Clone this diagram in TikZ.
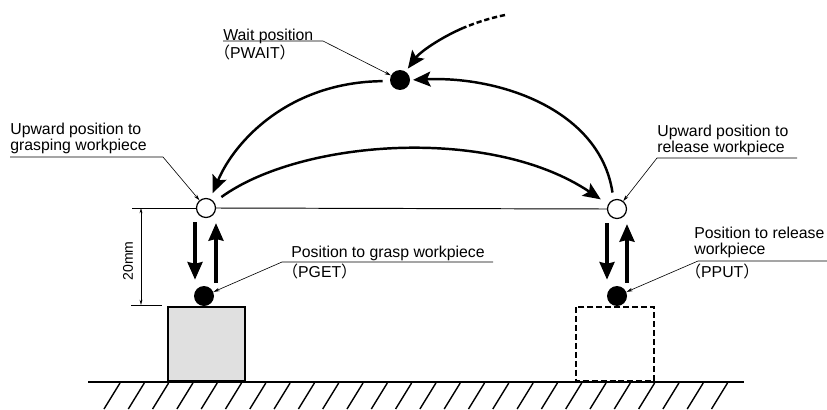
\documentclass[tikz,border=0pt]{standalone}
\usepackage{fontspec}
\setmainfont{Liberation Sans}
\newfontfamily\jpfont{Noto Sans CJK JP}
\usetikzlibrary{arrows.meta,calc}
\newcommand{\lp}{{\jpfont （}}
\newcommand{\rp}{{\jpfont ）}}
\tikzset{
  bdot/.style={circle,fill=black,inner sep=0pt,minimum size=0.4cm},
  wdot/.style={circle,draw=black,fill=white,line width=0.7pt,inner sep=0pt,minimum size=0.38cm},
  lbl/.style={font=\fontsize{9}{10}\selectfont,inner sep=0pt,anchor=base west},
  move/.style={-{Stealth[length=10pt,width=8.5pt,inset=2pt]},line width=1.4pt},
  vmove/.style={-{Stealth[length=10pt,width=8.5pt,inset=1pt]},line width=1.9pt},
  leader/.style={-{Stealth[length=3.5pt,width=2pt]},line width=0.35pt},
  dimline/.style={{Stealth[length=3pt,width=1.6pt]}-{Stealth[length=3pt,width=1.6pt]},line width=0.35pt},
  thinln/.style={line width=0.55pt},
  hatch/.style={line width=0.8pt}
}

\begin{document}
\begin{tikzpicture}[x=0.02cm,y=-0.02cm]
\useasboundingbox (0,0) rectangle (827,409);

% workpieces and floor
\draw[line width=1.1pt,fill=black!12] (168,307) rectangle (245,381);
\draw[line width=1.2pt,dash pattern=on 3.4pt off 1.7pt] (576,307) rectangle (654,381);
\draw[line width=1.5pt] (88,382) -- (744,382);
\foreach \i in {0,...,25}{
  \draw[hatch] ({120+24.3*\i},383) -- ({104+24.3*\i},409);
}

% positions
\node[bdot] (wait) at (400,80) {};
\node[wdot] (upL) at (206,208) {};
\node[wdot] (upR) at (617,209) {};
\node[bdot] (get) at (204,296) {};
\node[bdot] (put) at (617,296) {};

% reference line and dimension
\coordinate (dimTop) at (132,208);
\coordinate (dimBot) at (131,305);
\coordinate (dimEnd) at (162,305);
\draw[thinln] (dimTop) -- (upL.west);
\draw[thinln] (upL.east) -- (upR.west);
\draw[thinln] (dimBot) -- (dimEnd);
\draw[dimline] ($(dimTop)+(9,0)$) -- ($(dimBot)+(10,0)$);
\node[font=\fontsize{8}{9}\selectfont,rotate=90,inner sep=0pt] (dimT) at (128,261) {20mm};

% moves
\draw[move,shorten <=4pt,shorten >=3.5pt] (wait.186) .. controls (290,82) and (235,140) .. (upL.65);
\draw[move,shorten <=5pt,shorten >=5pt] (upL.35) .. controls (300,140) and (490,125) .. (upR.152);
\draw[move,shorten <=4pt,shorten >=1.5pt] (upR.110) .. controls (600,110) and (500,76) .. (wait.east);
\coordinate (from) at (505,15);
\coordinate (fromB) at (463,28);
\draw[line width=1.4pt,dash pattern=on 3pt off 1.6pt] (from) .. controls (490,18) and (475,23) .. (fromB);
\draw[move,shorten >=2pt] (fromB) .. controls (440,38) and (420,52) .. (wait.56);

\draw[vmove] ($(upL.south)+(-11,4)$) -- ($(get.north)+(-9,-6)$);
\draw[vmove] ($(get.north)+(12,-3)$) -- ($(upL.south)+(10,5)$);
\draw[vmove] ($(upR.south)+(-10,4)$) -- ($(put.north)+(-10,-6)$);
\draw[vmove] ($(put.north)+(10,-3)$) -- ($(upR.south)+(10,5)$);

% labels
\node[lbl] (waitT) at (223,40) {Wait position};
\node[lbl] (waitP) at (214,58) {\lp PWAIT\rp};
\coordinate (waitU1) at (223,41);
\coordinate (waitU2) at (323,41);
\draw[leader] (waitU1) -- (waitU2) -- (wait);

\node[lbl] (upLT) at (10,134) {Upward position to};
\node[lbl] (upLT2) at (10,150) {grasping workpiece};
\coordinate (upLU1) at (10,157);
\coordinate (upLU2) at (163,157);
\draw[leader] (upLU1) -- (upLU2) -- (upL);

\node[lbl] (upRT) at (657,136) {Upward position to};
\node[lbl] (upRT2) at (657,152) {release workpiece};
\coordinate (upRU1) at (797,158);
\coordinate (upRU2) at (657,158);
\draw[leader] (upRU1) -- (upRU2) -- (upR);

\node[lbl] (getT) at (291,257) {Position to grasp workpiece};
\node[lbl] (getP) at (282,277) {\lp PGET\rp};
\coordinate (getU1) at (493,262);
\coordinate (getU2) at (282,262);
\draw[leader] (getU1) -- (getU2) -- (get);

\node[lbl] (putT) at (694,238) {Position to release};
\node[lbl] (putT2) at (694,254) {workpiece};
\node[lbl] (putP) at (685,277) {\lp PPUT\rp};
\coordinate (putU1) at (827,261);
\coordinate (putU2) at (698,261);
\draw[leader] (putU1) -- (putU2) -- (put);
\end{tikzpicture}
\end{document}
